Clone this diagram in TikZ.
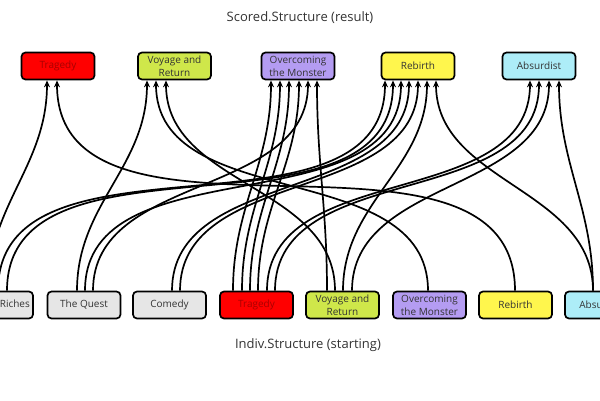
\documentclass[tikz,border=0pt]{standalone}
\usepackage{fontspec}
\setmainfont{Open Sans}
\usetikzlibrary{arrows.meta}
\definecolor{txt}{HTML}{333333}
\definecolor{cTrag}{HTML}{FF0000}
\definecolor{cTragTxt}{HTML}{A80000}
\definecolor{cVoy}{HTML}{CFE74A}
\definecolor{cOver}{HTML}{B49CF2}
\definecolor{cReb}{HTML}{FFF64D}
\definecolor{cAbs}{HTML}{ADEDF8}
\definecolor{cGray}{HTML}{E6E6E6}
\newcommand\lnk[4]{\draw[conn] ([xshift=#2pt]#1.north) to[out=90,in=-90] ([xshift=#4pt]#3.south);}
\begin{document}
\begin{tikzpicture}[x=1pt,y=1pt,
  box/.style={draw=black, line width=1.7pt, rounded corners=4pt, minimum width=73pt, minimum height=27pt, inner sep=1pt, align=center, font=\fontsize{10}{13}\selectfont, text=txt},
  conn/.style={line width=1.7pt, -{Stealth[length=7pt,width=6pt]}},
  title/.style={font=\fontsize{13}{15}\selectfont, text=txt}
]
\useasboundingbox (0,0) rectangle (600,-400);
\clip (0,0) rectangle (600,-400);
\node[title] (ttop) at (300,-18) {Scored.Structure (result)};
\node[title] (tbot) at (308,-345) {Indiv.Structure (starting)};
% top nodes
\node[box, fill=cTrag, text=cTragTxt] (tTrag) at (58,-66) {Tragedy};
\node[box, fill=cVoy] (tVoy) at (174.5,-66) {Voyage and\\Return};
\node[box, fill=cOver] (tOver) at (298,-66) {Overcoming\\the Monster};
\node[box, fill=cReb] (tReb) at (418,-66) {Rebirth};
\node[box, fill=cAbs] (tAbs) at (539,-66) {Absurdist};
% bottom nodes
\node[box, fill=cGray] (bRich) at (-3.5,-305) {Rags to Riches};
\node[box, fill=cGray] (bQuest) at (84,-305) {The Quest};
\node[box, fill=cGray] (bCom) at (169.5,-305) {Comedy};
\node[box, fill=cTrag, text=cTragTxt] (bTrag) at (256.5,-305) {Tragedy};
\node[box, fill=cVoy] (bVoy) at (342.5,-305) {Voyage and\\Return};
\node[box, fill=cOver] (bOver) at (429.5,-305) {Overcoming\\the Monster};
\node[box, fill=cReb] (bReb) at (515.5,-305) {Rebirth};
\node[box, fill=cAbs] (bAbs) at (601.5,-305) {Absurdist};
% connectors
\lnk{bRich}{-8.5}{tTrag}{-11}
\lnk{bRich}{1.5}{tReb}{-33}
\lnk{bRich}{10.5}{tReb}{-25}
\lnk{bQuest}{-7}{tVoy}{-27.5}
\lnk{bQuest}{1}{tReb}{-17}
\lnk{bQuest}{9}{tOver}{10}
\lnk{bCom}{2.5}{tReb}{-9}
\lnk{bCom}{10.5}{tReb}{0}
\lnk{bTrag}{-23.5}{tOver}{-27}
\lnk{bTrag}{-14.5}{tOver}{-18}
\lnk{bTrag}{-6.5}{tOver}{-9}
\lnk{bTrag}{1.5}{tOver}{1}
\lnk{bTrag}{10.5}{tAbs}{-9}
\lnk{bTrag}{18.5}{tAbs}{0}
\lnk{bVoy}{-15.5}{tOver}{19}
\lnk{bVoy}{-7.5}{tVoy}{-8.5}
\lnk{bVoy}{0.5}{tReb}{9}
\lnk{bVoy}{9.5}{tAbs}{10}
\lnk{bOver}{-1.5}{tVoy}{-18.5}
\lnk{bReb}{-0.5}{tTrag}{-1}
\lnk{bAbs}{-8.5}{tReb}{18}
\lnk{bAbs}{-8.5}{tAbs}{20}
\end{tikzpicture}
\end{document}
